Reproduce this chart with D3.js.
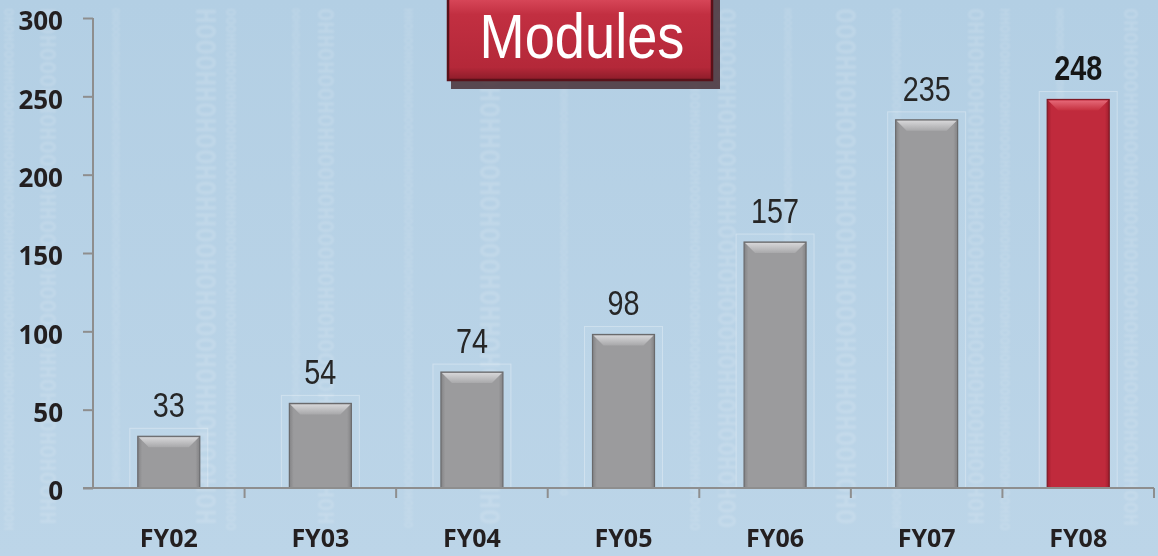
<!DOCTYPE html>
<html>
<head>
<meta charset="utf-8">
<script src="https://cdnjs.cloudflare.com/ajax/libs/d3/7.8.5/d3.min.js"></script>
<style>
  html, body { margin: 0; padding: 0; background: #b6d1e5; }
  svg { display: block; }
</style>
</head>
<body>
<script>
// data
var categories = ['FY02', 'FY03', 'FY04', 'FY05', 'FY06', 'FY07', 'FY08'];
var modules = [33, 54, 74, 98, 157, 235, 248];
var yTicks = [0, 50, 100, 150, 200, 250, 300];
var highlight = 'FY08';
var title = 'Modules';

var W = 1158, H = 556;
var m = {left: 93, right: 4, top: 18, bottom: 68};

var svg = d3.select(document.body).append('svg')
    .attr('width', W)
    .attr('height', H);

var defs = svg.append('defs');

// background
var bg = defs.append('linearGradient').attr('id', 'bg').attr('x1', 0).attr('y1', 0).attr('x2', 0).attr('y2', 1);
bg.append('stop').attr('offset', '0%').attr('stop-color', '#b3cfe4');
bg.append('stop').attr('offset', '100%').attr('stop-color', '#bcd5e8');
svg.append('rect').attr('width', W).attr('height', H).attr('fill', 'url(#bg)');

defs.append('filter').attr('id', 'soft')
    .append('feGaussianBlur').attr('stdDeviation', 0.8);

// faint binary texture columns (decoration only)
var texture = svg.append('g').attr('opacity', 0.15).attr('filter', 'url(#soft)');
var colX = [4, 40, 112, 196, 226, 292, 318, 404, 480, 560, 690, 718, 784, 836, 892, 968, 1000, 1056, 1124];
var colSize = [14, 22, 10, 26, 14, 10, 22, 12, 26, 10, 14, 24, 10, 26, 12, 22, 14, 10, 20];
var bits = 'OHOHOOOHHOHOOHOHHOOHOHOOOHOHHOHOOHOHOOHHOOHOHOOHOHHOOHOHHOHOOHOHOOHHOOHOOOHOHHOHO';
colX.forEach(function(cx, i){
    var size = colSize[i];
    var n = Math.floor(530 / (size * 0.61));
    texture.append('text')
        .attr('transform', 'translate(' + cx + ',8) rotate(90)')
        .attr('font-family', 'DejaVu Sans Mono')
        .attr('font-weight', 'bold')
        .attr('font-size', size)
        .attr('fill', '#ffffff')
        .text(bits.slice(i % 9, i % 9 + n));
});

var x = d3.scaleBand()
    .domain(categories)
    .range([m.left, W - m.right])
    .paddingInner(0)
    .paddingOuter(0);

var y = d3.scaleLinear()
    .domain([0, 300])
    .range([H - m.bottom, m.top]);

// bevel gradients
function barGrad(id, c1, c2) {
    var g = defs.append('linearGradient').attr('id', id).attr('x1', 0).attr('y1', 0).attr('x2', 1).attr('y2', 0);
    g.append('stop').attr('offset', '0%').attr('stop-color', c2);
    g.append('stop').attr('offset', '7%').attr('stop-color', c1);
    g.append('stop').attr('offset', '93%').attr('stop-color', c1);
    g.append('stop').attr('offset', '100%').attr('stop-color', c2);
}
barGrad('gGray', '#9b9b9d', '#838385');
barGrad('gRed', '#c02a3c', '#a01e2e');

function topGrad(id, c1, c2) {
    var g = defs.append('linearGradient').attr('id', id).attr('x1', 0).attr('y1', 0).attr('x2', 0).attr('y2', 1);
    g.append('stop').attr('offset', '0%').attr('stop-color', c1);
    g.append('stop').attr('offset', '100%').attr('stop-color', c2);
}
topGrad('tGray', '#d6d6d8', '#a8a8aa');
topGrad('tRed', '#e56877', '#c5303f');

var bw = 62;
function bx(d) { return x(d) + x.bandwidth() / 2 - bw / 2; }

var bars = svg.append('g').selectAll('g.bar')
    .data(categories)
    .enter().append('g').attr('class', 'bar');

// halo box
bars.append('rect')
    .attr('x', function(d){ return bx(d) - 8; })
    .attr('y', function(d, i){ return y(modules[i]) - 8; })
    .attr('width', bw + 16)
    .attr('height', function(d, i){ return y(0) - y(modules[i]) + 8; })
    .attr('fill', 'rgba(255,255,255,0.05)')
    .attr('stroke', 'rgba(255,255,255,0.3)')
    .attr('stroke-width', 1);

bars.append('rect')
    .attr('x', bx)
    .attr('y', function(d, i){ return y(modules[i]); })
    .attr('width', bw)
    .attr('height', function(d, i){ return y(0) - y(modules[i]); })
    .attr('fill', function(d){ return d === highlight ? 'url(#gRed)' : 'url(#gGray)'; })
    .attr('stroke', function(d){ return d === highlight ? '#7e1824' : '#6a6a6c'; })
    .attr('stroke-width', 1.2);

// top bevel
bars.append('path')
    .attr('d', function(d, i){
        var x0 = bx(d), y0 = y(modules[i]);
        return 'M' + (x0 + 1) + ',' + (y0 + 1) + ' L' + (x0 + bw - 1) + ',' + (y0 + 1) +
            ' L' + (x0 + bw - 11) + ',' + (y0 + 11) + ' L' + (x0 + 11) + ',' + (y0 + 11) + ' Z';
    })
    .attr('fill', function(d){ return d === highlight ? 'url(#tRed)' : 'url(#tGray)'; });

// value labels (narrow)
bars.append('text')
    .attr('transform', function(d, i){
        return 'translate(' + (x(d) + x.bandwidth() / 2) + ',' + (y(modules[i]) - 19) + ') scale(0.8,1)';
    })
    .attr('text-anchor', 'middle')
    .attr('font-family', '"Liberation Sans", Arial, sans-serif')
    .attr('font-size', 36)
    .attr('font-weight', function(d){ return d === highlight ? 'bold' : 'normal'; })
    .attr('fill', function(d){ return d === highlight ? '#161616' : '#262626'; })
    .text(function(d, i){ return modules[i]; });

// y axis
var yAxis = svg.append('g')
    .attr('transform', 'translate(' + m.left + ',0)')
    .call(d3.axisLeft(y).tickValues(yTicks).tickSize(10).tickPadding(20));
yAxis.selectAll('path, line').attr('stroke', '#8e8e8e').attr('stroke-width', 2);
yAxis.select('.domain').attr('d', 'M0,' + y(300) + 'V' + y(0));
yAxis.selectAll('text')
    .attr('dy', '0.46em')
    .attr('font-family', '"Open Sans", sans-serif')
    .attr('font-weight', 'bold')
    .attr('font-size', 26)
    .attr('fill', '#231f20');

// x axis
var xAxis = svg.append('g')
    .attr('transform', 'translate(0,' + y(0) + ')')
    .call(d3.axisBottom(x).tickSize(0).tickPadding(0));
xAxis.select('.domain').attr('stroke', '#8e8e8e').attr('stroke-width', 2)
    .attr('d', 'M' + (m.left - 10) + ',0H' + (W - m.right));
xAxis.selectAll('.tick text')
    .attr('y', 59)
    .attr('dy', 0)
    .attr('font-family', '"Open Sans", sans-serif')
    .attr('font-weight', 'bold')
    .attr('font-size', 25)
    .attr('fill', '#231f20');
xAxis.selectAll('line.sep')
    .data(categories.slice(1).concat(['end']))
    .enter().append('line').attr('class', 'sep')
    .attr('x1', function(d){ return d === 'end' ? W - m.right : x(d); })
    .attr('x2', function(d){ return d === 'end' ? W - m.right : x(d); })
    .attr('y1', 0).attr('y2', 10)
    .attr('stroke', '#8e8e8e').attr('stroke-width', 2);

// title box
var tb = {x: 448, y: -4, w: 264, h: 84};
var tg = defs.append('linearGradient').attr('id', 'tg').attr('x1', 0).attr('y1', 0).attr('x2', 0).attr('y2', 1);
tg.append('stop').attr('offset', '0%').attr('stop-color', '#dc4c5e');
tg.append('stop').attr('offset', '22%').attr('stop-color', '#c22f41');
tg.append('stop').attr('offset', '85%').attr('stop-color', '#b42839');
tg.append('stop').attr('offset', '100%').attr('stop-color', '#8c1c29');
var titleG = svg.append('g');
titleG.append('rect')
    .attr('x', tb.x + 3).attr('y', tb.y + 4).attr('width', tb.w + 5).attr('height', tb.h + 5)
    .attr('fill', '#3a1a1e').attr('opacity', 0.75);
titleG.append('rect')
    .attr('x', tb.x).attr('y', tb.y).attr('width', tb.w).attr('height', tb.h)
    .attr('fill', 'url(#tg)')
    .attr('stroke', '#5a1119').attr('stroke-width', 2.5);
titleG.append('text')
    .attr('transform', 'translate(' + (tb.x + tb.w / 2 + 2) + ',58) scale(0.86,1)')
    .attr('text-anchor', 'middle')
    .attr('font-family', '"Liberation Sans", Arial, sans-serif')
    .attr('font-size', 63)
    .attr('fill', '#ffffff')
    .text(title);
</script>
</body>
</html>
